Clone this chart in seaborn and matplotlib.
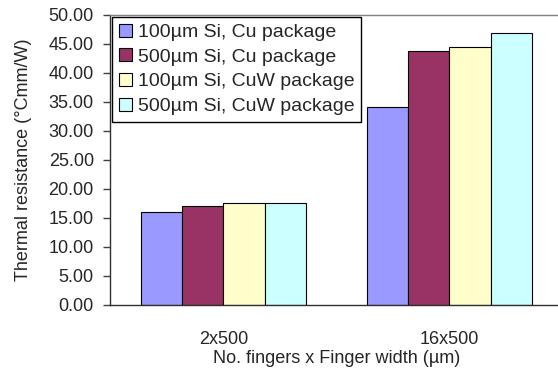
import pandas as pd
import matplotlib.pyplot as plt
import seaborn as sns

categories = ["2x500", "16x500"]
series = ["100µm Si, Cu package", "500µm Si, Cu package",
          "100µm Si, CuW package", "500µm Si, CuW package"]
values = {
    "100µm Si, Cu package": [16.0, 34.2],
    "500µm Si, Cu package": [17.1, 43.8],
    "100µm Si, CuW package": [17.6, 44.4],
    "500µm Si, CuW package": [17.6, 46.9],
}
colors = ["#9999FF", "#993366", "#FFFFCC", "#CCFFFF"]

if __name__ == "__main__":
    rows = []
    for s in series:
        for c, v in zip(categories, values[s]):
            rows.append({"cat": c, "series": s, "val": v})
    df = pd.DataFrame(rows)

    sns.set_style("white")
    plt.rcParams['font.family'] = ['Liberation Sans', 'DejaVu Sans']
    fs = 13

    fig = plt.figure(figsize=(5.58, 3.74), dpi=100)
    ax = fig.add_axes([0.198, 0.1845, 0.81, 0.7755])

    sns.barplot(data=df, x="cat", y="val", hue="series", hue_order=series,
                palette=colors, width=0.727, edgecolor="black", linewidth=0.8,
                saturation=1, ax=ax)

    ax.set_ylim(0, 50)
    ax.set_xlim(-0.5, 1.5)
    ax.set_yticks([i * 5 for i in range(11)])
    ax.set_yticklabels([f"{i * 5:.2f}" for i in range(11)], fontsize=fs)
    ax.set_xticks([0, 1])
    ax.set_xticklabels(categories, fontsize=fs)
    ax.tick_params(axis="x", which="major", length=0, pad=19)
    ax.set_xticks([-0.5, 0.5, 1.5], minor=True)
    ax.tick_params(axis="x", which="minor", length=5, width=1, color="#404040", direction="out")
    ax.tick_params(axis="y", length=5, width=1, color="#404040", direction="out", left=True, pad=7)

    ax.set_xlabel("No. fingers x Finger width (µm)", fontsize=fs, labelpad=1)
    ax.set_ylabel("Thermal resistance (°Cmm/W)", fontsize=fs, labelpad=12)

    for side in ["left", "bottom"]:
        ax.spines[side].set_color("#303030")
        ax.spines[side].set_linewidth(1)
    ax.spines["top"].set_color("#808080")
    ax.spines["top"].set_linewidth(1)
    ax.spines["right"].set_visible(False)

    leg = ax.legend(loc="upper left", bbox_to_anchor=(0, 1.0), borderaxespad=0.1,
                    fontsize=14, frameon=True, fancybox=False, edgecolor="black",
                    handlelength=0.65, handleheight=0.65, handletextpad=0.3,
                    labelspacing=0.38, borderpad=0.35, framealpha=1)
    leg.get_frame().set_linewidth(1)

    fig.savefig("out.png", dpi=100)
